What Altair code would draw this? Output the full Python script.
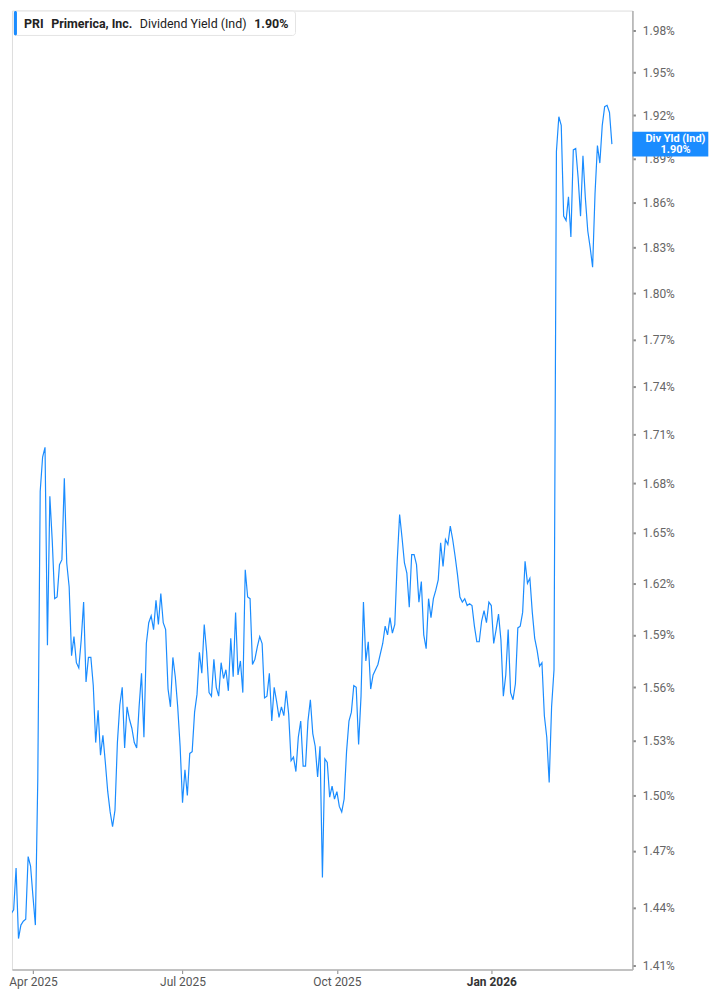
import altair as alt
import pandas as pd

# Dividend yield (%) per trading session
yield_mar_jun_2025 = [
    1.448, 1.431, 1.445, 1.437, 1.439, 1.461, 1.424, 1.431, 1.433, 1.434,
    1.467, 1.462, 1.446, 1.431, 1.509, 1.675, 1.696, 1.702, 1.584, 1.672,
    1.645, 1.611, 1.612, 1.631, 1.634, 1.683, 1.632, 1.618, 1.578, 1.589,
    1.574, 1.571, 1.587, 1.609, 1.563, 1.577, 1.577, 1.561, 1.529, 1.547,
    1.522, 1.533, 1.518, 1.502, 1.491, 1.483, 1.492, 1.529, 1.550, 1.560,
    1.526, 1.549, 1.542, 1.537, 1.529, 1.526, 1.549, 1.568, 1.532, 1.585,
    1.597, 1.601, 1.593, 1.610, 1.596, 1.614, 1.597, 1.593, 1.559, 1.549,
    1.577, 1.566, 1.549, 1.527, 1.496, 1.514, 1.500, 1.523, 1.524, 1.546,
    1.556, 1.580, 1.568, 1.596,
]
yield_jul_oct_2025 = [
    1.580, 1.557, 1.555, 1.576, 1.560, 1.555, 1.574, 1.565, 1.570, 1.558,
    1.588, 1.566, 1.603, 1.567, 1.575, 1.557, 1.628, 1.612, 1.611, 1.573,
    1.576, 1.583, 1.589, 1.585, 1.554, 1.555, 1.568, 1.541, 1.560, 1.552,
    1.543, 1.549, 1.544, 1.558, 1.545, 1.519, 1.521, 1.513, 1.532, 1.541,
    1.516, 1.516, 1.541, 1.553, 1.534, 1.527, 1.510, 1.527, 1.456, 1.520,
    1.518, 1.499, 1.505, 1.498, 1.502, 1.494, 1.491, 1.498, 1.524, 1.541,
    1.546, 1.561, 1.560, 1.528,
]
yield_oct_feb_2026 = [
    1.555, 1.609, 1.575, 1.586, 1.559, 1.567, 1.570, 1.573, 1.579, 1.585,
    1.595, 1.590, 1.600, 1.591, 1.596, 1.633, 1.661, 1.647, 1.632, 1.626,
    1.606, 1.637, 1.637, 1.631, 1.609, 1.621, 1.590, 1.582, 1.611, 1.600,
    1.611, 1.616, 1.622, 1.644, 1.630, 1.646, 1.643, 1.654, 1.646, 1.636,
    1.625, 1.612, 1.609, 1.611, 1.607, 1.608, 1.607, 1.595, 1.586, 1.586,
    1.598, 1.604, 1.597, 1.609, 1.607, 1.585, 1.593, 1.602, 1.587, 1.555,
    1.567, 1.593, 1.557, 1.553, 1.562, 1.594, 1.595, 1.603, 1.633, 1.620,
    1.623, 1.603, 1.588, 1.581, 1.572, 1.574, 1.544, 1.532, 1.507, 1.549,
    1.570,
]
yield_feb_mar_2026 = [
    1.895, 1.919, 1.913, 1.851, 1.848, 1.864, 1.837, 1.896, 1.897, 1.877,
    1.851, 1.892, 1.863, 1.841, 1.830, 1.817, 1.866, 1.899, 1.887, 1.913,
    1.926, 1.927, 1.922, 1.900,
]

tick_sessions = [12, 74, 138, 202]
tick_labels = ["Apr 2025", "Jul 2025", "Oct 2025", "Jan 2026"]
y_ticks = [1.41, 1.44, 1.47, 1.50, 1.53, 1.56, 1.59, 1.62, 1.65, 1.68,
           1.71, 1.74, 1.77, 1.80, 1.83, 1.86, 1.89, 1.92, 1.95, 1.98]

values = yield_mar_jun_2025 + yield_jul_oct_2025 + yield_oct_feb_2026 + yield_feb_mar_2026
df = pd.DataFrame({"session": list(range(len(values))), "yield": values})
last = values[-1]

BLUE = "#1a8cff"
FONT = "Roboto"
W, H = 623.7, 964

label_expr = ""
for s, lab in zip(tick_sessions, tick_labels):
    label_expr += f"datum.value == {s} ? '{lab}' : "
label_expr += "''"
bold_test = f"datum.value == {tick_sessions[-1]}"

x_enc = alt.X(
    "session:Q",
    scale=alt.Scale(domain=[3.3, 260.5], nice=False, zero=False),
    axis=alt.Axis(
        values=tick_sessions, labelExpr=label_expr, title=None, grid=False,
        domainColor="#b3b3b3", domainWidth=1.6, tickColor="#9a9a9a", tickSize=4,
        tickWidth=1.2, labelFont=FONT, labelFontSize=12, labelPadding=3,
        labelColor=alt.condition(bold_test, alt.value("#333333"), alt.value("#555555")),
        labelFontWeight=alt.condition(bold_test, alt.value("bold"), alt.value("normal")),
        labelOverlap=False, labelFlush=False,
    ),
)
y_enc = alt.Y(
    "yield:Q",
    scale=alt.Scale(type="log", domain=[1.4081, 1.9944], nice=False, zero=False),
    axis=alt.Axis(
        orient="right", values=y_ticks, labelExpr="format(datum.value, '.2f') + '%'",
        title=None, grid=False, domainColor="#b3b3b3", domainWidth=1.6,
        tickColor="#888888", tickSize=3, tickWidth=2, labelFont=FONT,
        labelFontSize=12, labelColor="#666666", labelPadding=7, labelOverlap=False,
    ),
)

line = alt.Chart(df).mark_line(color=BLUE, strokeWidth=1.2, clip=True).encode(x=x_enc, y=y_enc)

one = pd.DataFrame({"k": [0]})

# current-value tag on the right axis
tag = alt.Chart(one).mark_rect(color=BLUE, yOffset=-12.5, y2Offset=12.5).encode(
    x=alt.value(W), x2=alt.value(700), y=alt.datum(last), y2=alt.datum(last)
)
tag_line1 = alt.Chart(one).mark_text(
    text="Div Yld (Ind)", color="white", font=FONT, fontSize=11,
    fontWeight="bold", align="center", baseline="middle", dy=-5.5,
).encode(x=alt.value(667), y=alt.datum(last))
tag_line2 = alt.Chart(one).mark_text(
    text=f"{last:.2f}%", color="white", font=FONT, fontSize=11,
    fontWeight="bold", align="center", baseline="middle", dy=5.5,
).encode(x=alt.value(667), y=alt.datum(last))

# legend box, top left
box = alt.Chart(one).mark_rect(fill="white", stroke="#e4e4e4", strokeWidth=1, cornerRadius=3).encode(
    x=alt.value(2), x2=alt.value(285), y=alt.value(0.5), y2=alt.value(25)
)
bar = alt.Chart(one).mark_rect(fill=BLUE, cornerRadius=2).encode(
    x=alt.value(2), x2=alt.value(5), y=alt.value(0.5), y2=alt.value(25)
)
legend_parts = [
    ("PRI", 12, "bold"),
    ("Primerica, Inc.", 39.5, "bold"),
    ("Dividend Yield (Ind)", 128.5, "normal"),
    (f"{last:.2f}%", 243.5, "bold"),
]
legend_texts = [
    alt.Chart(one).mark_text(
        text=t, font=FONT, fontSize=12.5, fontWeight=w, color="#222222",
        align="left", baseline="middle",
    ).encode(x=alt.value(px), y=alt.value(13.5))
    for t, px, w in legend_parts
]

chart = alt.layer(line, tag, tag_line1, tag_line2, box, bar, *legend_texts).properties(
    width=W, height=H, padding=0,
).configure_view(stroke=None).configure(background="white")

chart.save("out.html", embed_options={"renderer": "svg", "actions": False})
